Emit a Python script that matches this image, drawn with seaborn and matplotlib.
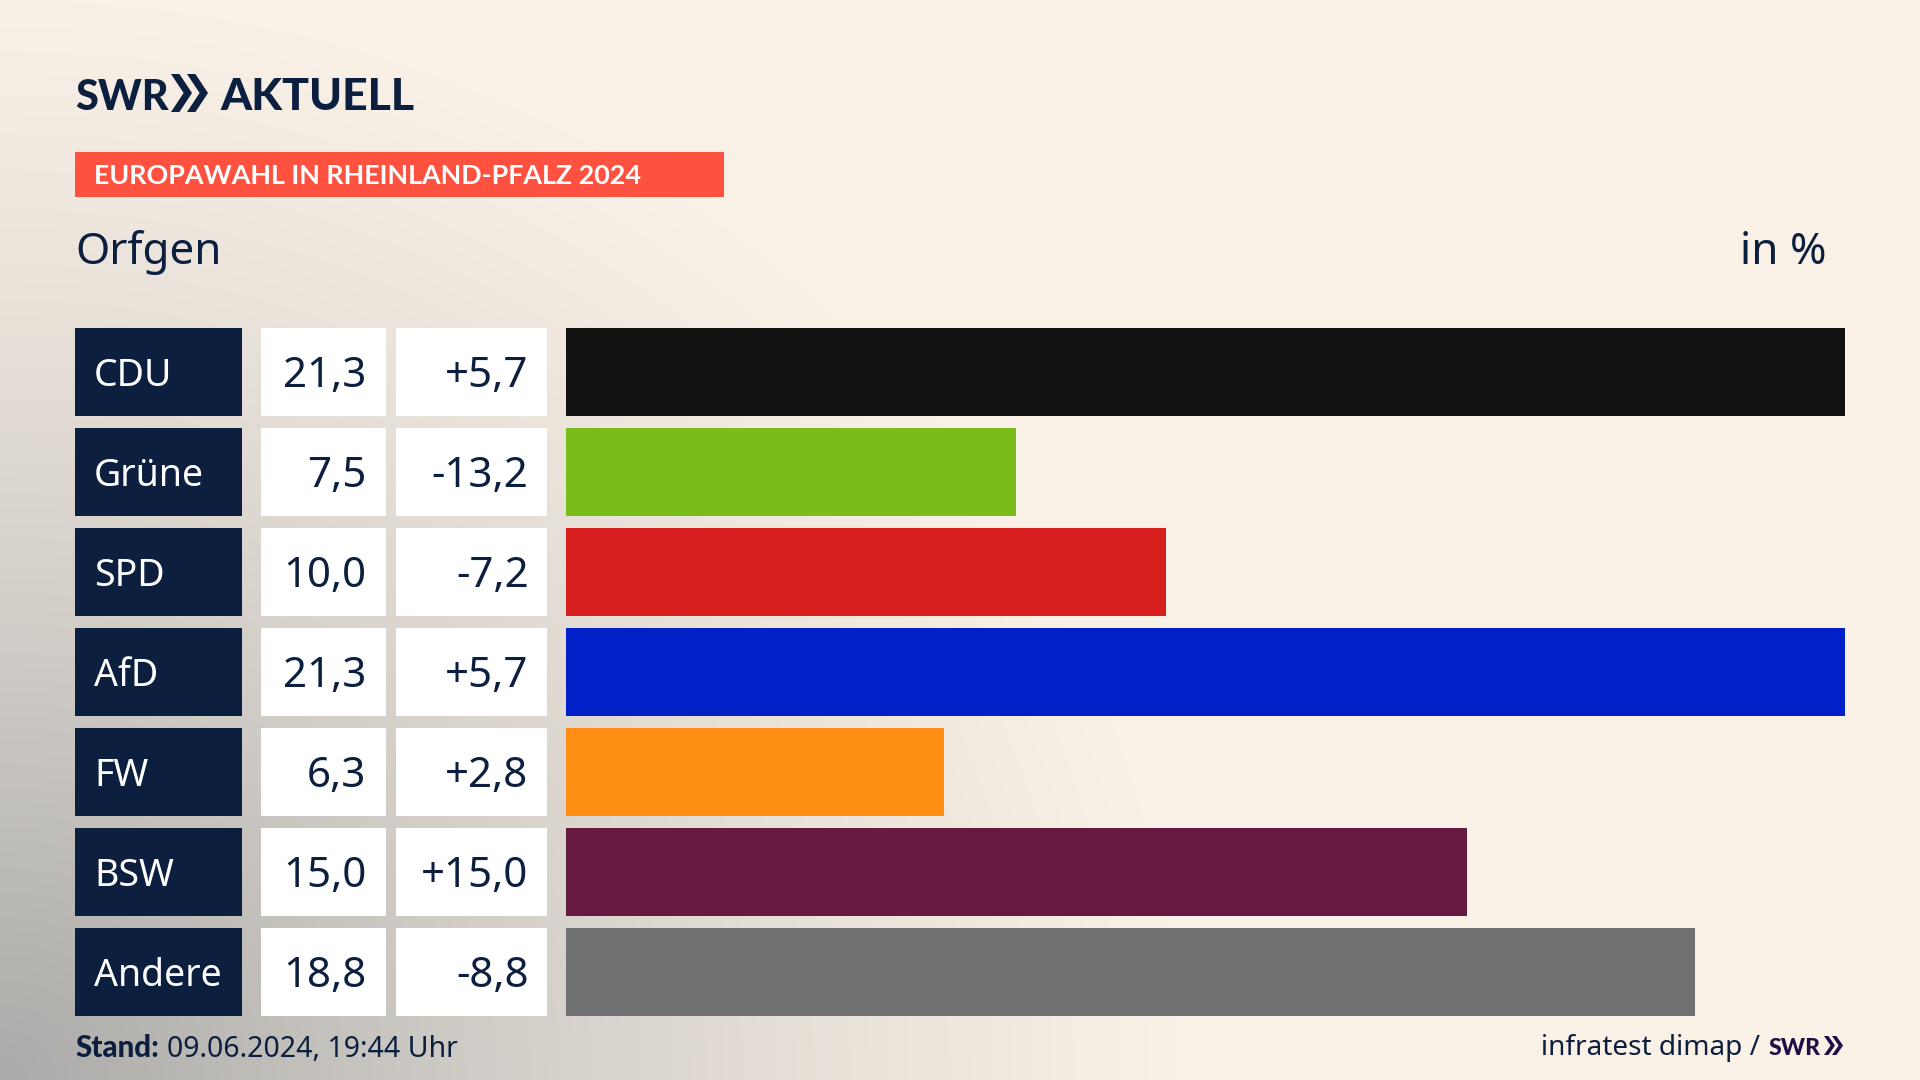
import numpy as np
import pandas as pd
import matplotlib
matplotlib.use("Agg")
import matplotlib.pyplot as plt
from matplotlib.patches import Rectangle, Polygon
import seaborn as sns

parties = ["CDU", "Grüne", "SPD", "AfD", "FW", "BSW", "Andere"]
shares = [21.3, 7.5, 10.0, 21.3, 6.3, 15.0, 18.8]
share_labels = ["21,3", "7,5", "10,0", "21,3", "6,3", "15,0", "18,8"]
change_labels = ["+5,7", "-13,2", "-7,2", "+5,7", "+2,8", "+15,0", "-8,8"]
colors = ["#121212", "#7ABD1B", "#D71F1D", "#0021C8", "#FF8E14", "#661A3F", "#707173"]

NAVY = "#0C1F3F"
W, H = 1920, 1080
PT = 0.72

sns.set_theme(style="white")
plt.rcParams["font.family"] = ["Noto Sans", "DejaVu Sans"]
BOLD = ["Lato", "DejaVu Sans"]

fig = plt.figure(figsize=(W / 100, H / 100), dpi=100)

# overlay in pixel coordinates for background, panels and texts
bg = fig.add_axes([0, 0, 1, 1], zorder=0)
bg.axis("off")

yy, xx = np.mgrid[0:H:270j, 0:W:480j]
r = np.sqrt((xx / 1220) ** 2 + ((H - yy) / 1120) ** 2)
t = np.clip(1 - r, 0, 1) ** 1.3
cream = np.array([250, 241, 231]) / 255
grey = np.array([170, 170, 168]) / 255
img = cream[None, None, :] + (grey - cream)[None, None, :] * t[..., None]
bg.imshow(img, extent=(0, W, H, 0), aspect="auto", interpolation="bilinear", zorder=0)
bg.set_xlim(0, W)
bg.set_ylim(H, 0)

# bars
df = pd.DataFrame({"party": parties, "share": shares})
ax = fig.add_axes([566 / W, 1 - 1022 / H, (1845 - 566) / W, 700 / H], zorder=1)
ax.patch.set_alpha(0)
sns.barplot(data=df, y="party", x="share", hue="party", palette=colors, dodge=False,
            legend=False, width=0.88, saturation=1, linewidth=0, edgecolor="none", ax=ax)
ax.set_xlim(0, 21.3)
ax.set_ylim(6.5, -0.5)
ax.axis("off")

# table cells
for i, (p, s, c) in enumerate(zip(parties, share_labels, change_labels)):
    top = 328 + i * 100
    base = top + 59
    bg.add_patch(Rectangle((75, top), 167, 88, color=NAVY, lw=0, zorder=2))
    bg.add_patch(Rectangle((261, top), 125, 88, color="white", lw=0, zorder=2))
    bg.add_patch(Rectangle((396, top), 151, 88, color="white", lw=0, zorder=2))
    bg.text(94, base - 1, p, color="white", fontsize=37.5 * PT, va="baseline", ha="left", zorder=3)
    bg.text(366.5, base, s, color=NAVY, fontsize=42 * PT, va="baseline", ha="right", zorder=3)
    bg.text(528.5, base, c, color=NAVY, fontsize=42 * PT, va="baseline", ha="right", zorder=3)

# logo
def chevrons(x0, y0, h, w, gap, col):
    for k in range(2):
        x = x0 + k * gap
        bg.add_patch(Polygon([(x, y0), (x + w * 0.4, y0), (x + w, y0 + h / 2),
                              (x + w * 0.4, y0 + h), (x, y0 + h), (x + w * 0.6, y0 + h / 2)],
                             closed=True, color=col, lw=0, zorder=3))

bg.text(75, 110, "SWR", color=NAVY, fontsize=41.5 * PT, fontweight="black", family=BOLD, va="baseline", ha="left")
chevrons(171, 74, 38, 21, 16, NAVY)
bg.text(220, 110, "AKTUELL", color=NAVY, fontsize=44.5 * PT, fontweight="black", family=BOLD, va="baseline", ha="left")

# banner
bg.add_patch(Rectangle((75, 152), 649, 45, color="#FF5140", lw=0, zorder=2))
bg.text(94, 184, "EUROPAWAHL IN RHEINLAND-PFALZ 2024", color="white", fontsize=26.9 * PT,
        fontweight="bold", family=BOLD, va="baseline", ha="left", zorder=3)

bg.text(75, 264, "Orfgen", color=NAVY, fontsize=44 * PT, va="baseline", ha="left")
bg.text(1826, 264, "in %", color=NAVY, fontsize=44 * PT, va="baseline", ha="right")

# footer
bg.text(75, 1057, "Stand:", color=NAVY, fontsize=29.5 * PT, fontweight="black", family=BOLD, va="baseline", ha="left")
bg.text(167, 1057, "09.06.2024, 19:44 Uhr", color=NAVY, fontsize=28.5 * PT, va="baseline", ha="left")
bg.text(1760, 1055, "infratest dimap /", color=NAVY, fontsize=28 * PT, va="baseline", ha="right")
bg.text(1769, 1055, "SWR", color="#1E0F44", fontsize=23 * PT, fontweight="black", family=BOLD, va="baseline", ha="left")
chevrons(1824, 1036, 19, 11, 8, "#1E0F44")

fig.savefig("out.png", dpi=100)
